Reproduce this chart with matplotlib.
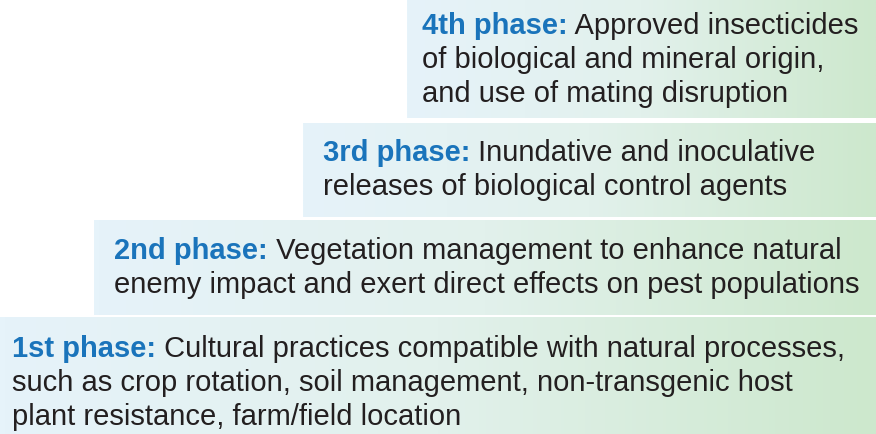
import numpy as np
import matplotlib.pyplot as plt
from matplotlib.colors import LinearSegmentedColormap

plt.rcParams['font.family'] = ['Liberation Sans', 'DejaVu Sans']

# phase titles and description lines (bottom step first)
phase_titles = ["1st phase:", "2nd phase:", "3rd phase:", "4th phase:"]
phase_lines = [
    ["Cultural practices compatible with natural processes,",
     "such as crop rotation, soil management, non-transgenic host",
     "plant resistance, farm/field location"],
    ["Vegetation management to enhance natural",
     "enemy impact and exert direct effects on pest populations"],
    ["Inundative and inoculative",
     "releases of biological control agents"],
    ["Approved insecticides",
     "of biological and mineral origin,",
     "and use of mating disruption"],
]

# layout (pixels, y down)
W, H = 876, 434
box_left = [0, 94, 303, 407]
box_top = [317, 220, 123, 0]
box_bottom = [434, 315, 217, 118]
text_x = [12, 114, 323, 422]
first_baseline = [357, 259, 161, 34]
line_step = 34

title_color = "#1a74bb"
text_color = "#231f20"
grad = LinearSegmentedColormap.from_list("stepgrad", ["#e6f3fa", "#e2f1ec", "#cde8cd"])

fig = plt.figure(figsize=(W / 100, H / 100), dpi=100)
ax = fig.add_axes([0, 0, 1, 1])
ax.set_xlim(0, W)
ax.set_ylim(H, 0)
ax.axis('off')

ramp = np.linspace(0, 1, 256).reshape(1, -1)
for i in range(4):
    ax.imshow(ramp, cmap=grad, aspect='auto', interpolation='bilinear',
              extent=[box_left[i], W, box_bottom[i], box_top[i]], zorder=1)

fs = 21
for i in range(4):
    y = first_baseline[i]
    t = ax.text(text_x[i], y, phase_titles[i], color=title_color, fontsize=fs,
                fontweight='bold', va='baseline', ha='left', zorder=3)
    ax.annotate(" " + phase_lines[i][0], xy=(1, 0), xycoords=t, va='bottom',
                ha='left', fontsize=fs, color=text_color, zorder=3)
    for k, line in enumerate(phase_lines[i][1:], start=1):
        ax.text(text_x[i], y + k * line_step, line, color=text_color, fontsize=fs,
                va='baseline', ha='left', zorder=3)

ax.set_xlim(0, W)
ax.set_ylim(H, 0)
fig.savefig("out.png", dpi=100)
